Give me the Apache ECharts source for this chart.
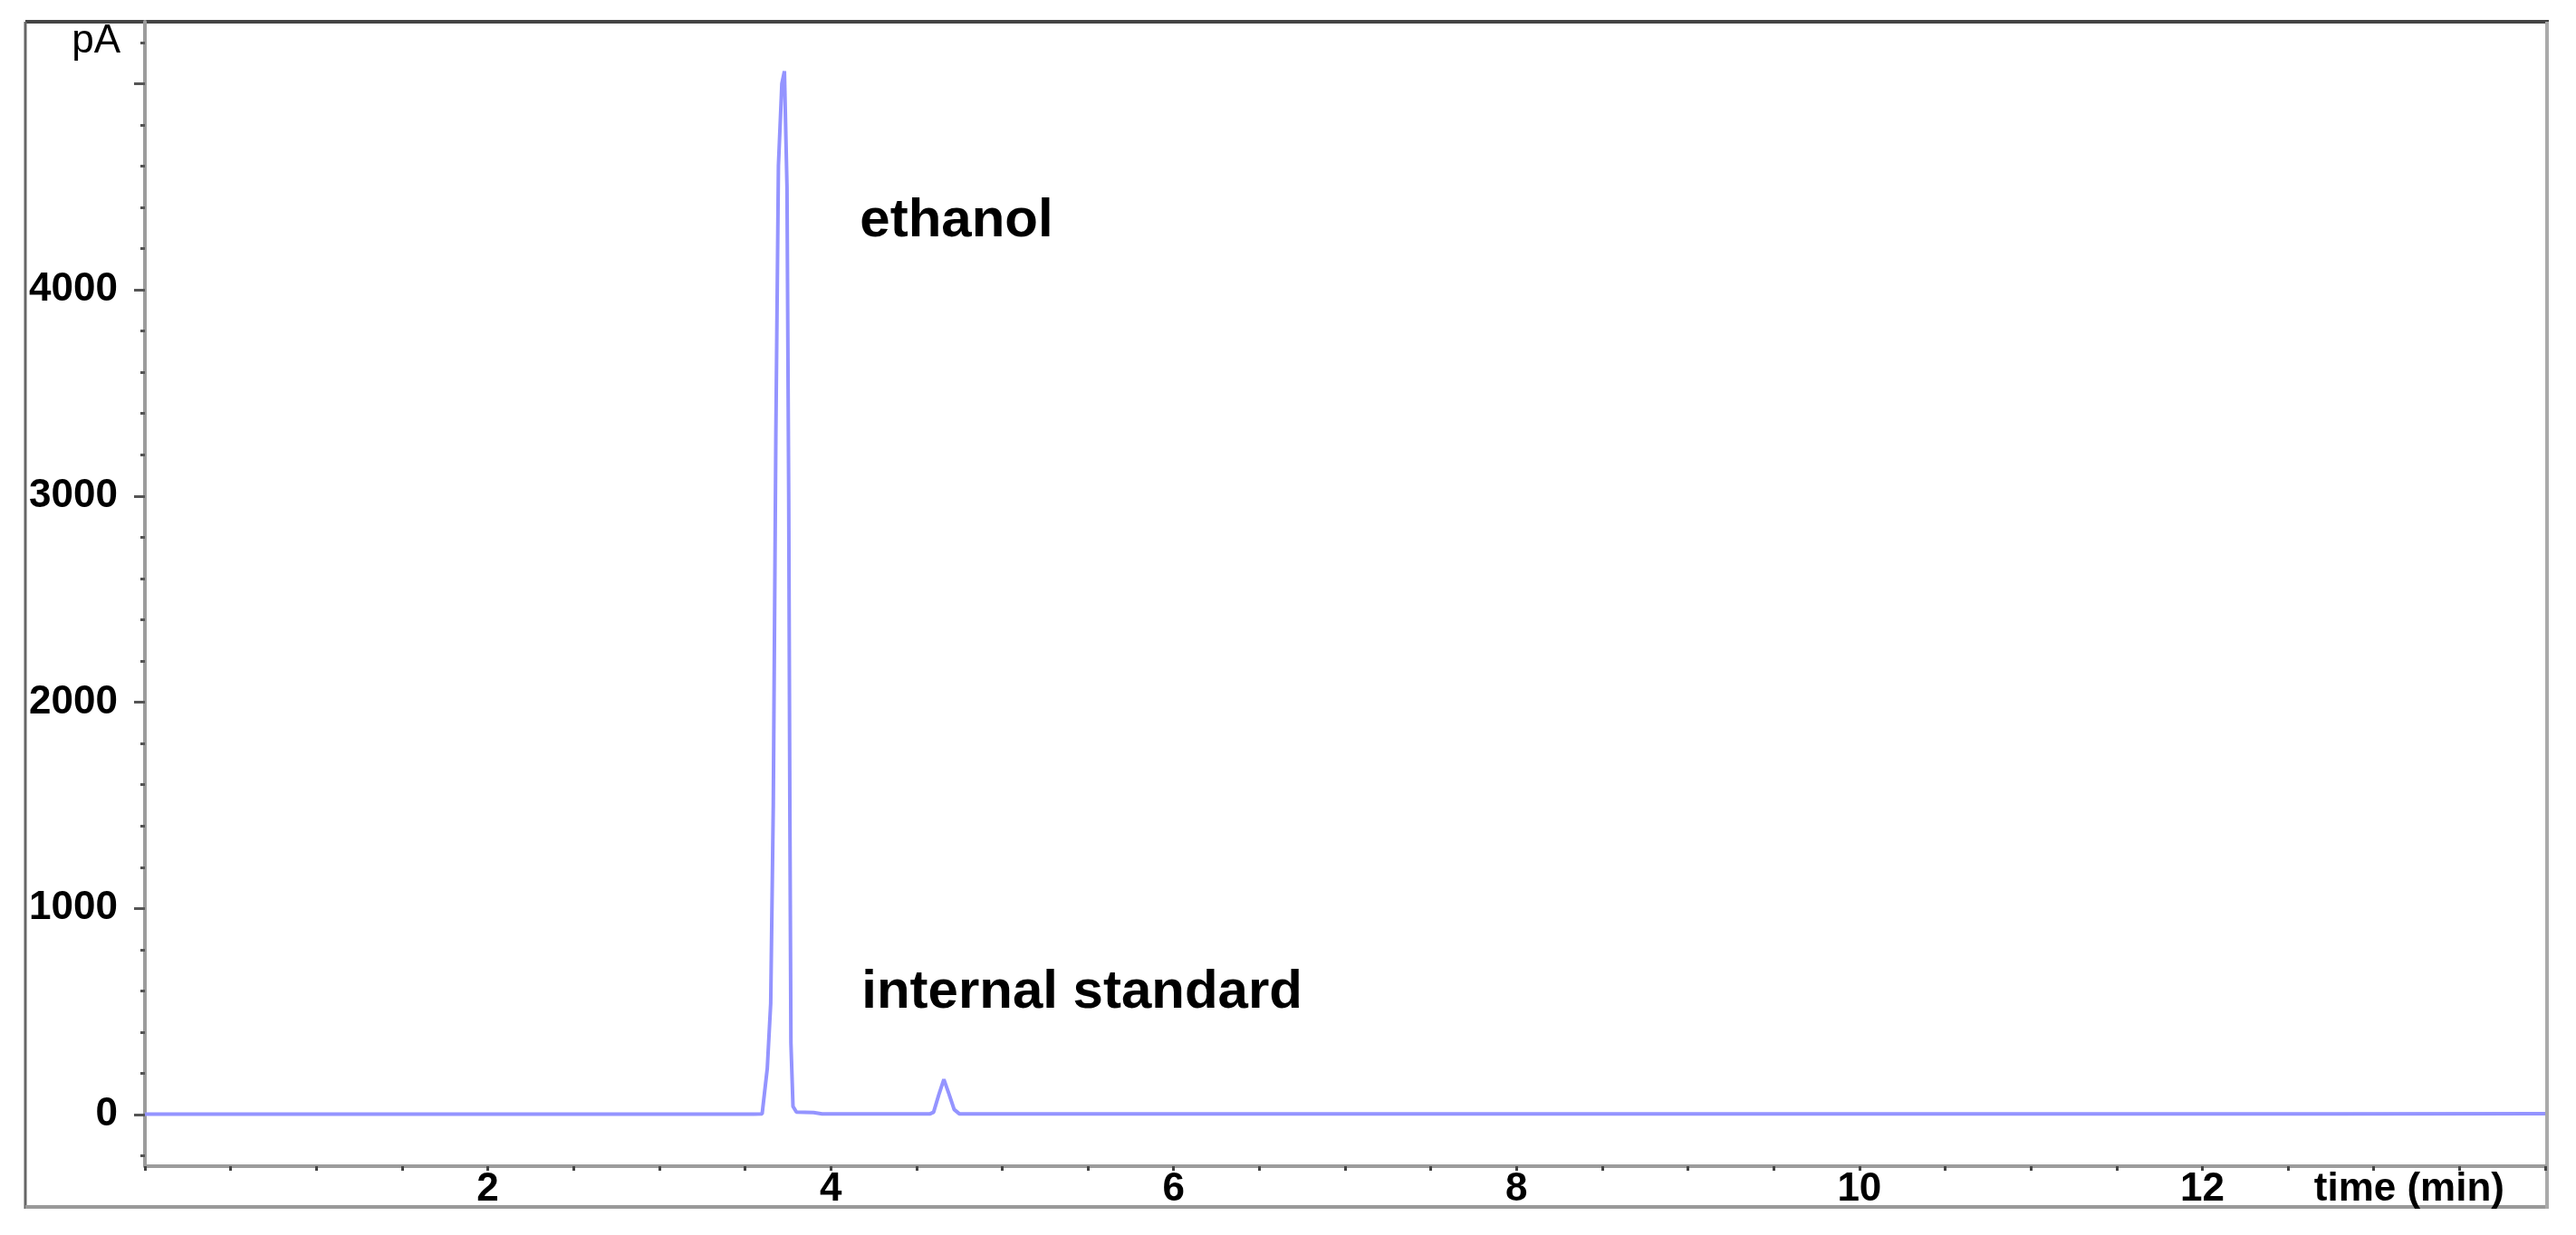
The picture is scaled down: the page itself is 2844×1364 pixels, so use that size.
<!DOCTYPE html>
<html>
<head>
<meta charset="utf-8">
<script src="https://cdn.jsdelivr.net/npm/echarts@6.0.0/dist/echarts.min.js"></script>
<style>
  html, body { margin: 0; padding: 0; background: #fff; }
  #chart { width: 2844px; height: 1364px; }
</style>
</head>
<body>
<div id="chart"></div>
<script>
// chromatogram (min / pA)
var times = [0, 3.55, 3.60, 3.63, 3.65, 3.665, 3.68, 3.695, 3.715, 3.73, 3.745, 3.755, 3.762, 3.768, 3.78, 3.80, 3.90, 3.95,
  4.58, 4.60, 4.63, 4.66, 4.69, 4.72, 4.75, 12.77, 14]
var signal = [3, 3, 4, 224, 540, 1500, 3300, 4600, 5000, 5060, 4500, 3000, 1420, 346, 40, 12, 10, 4,
  4, 12, 95, 171, 100, 25, 4, 4, 5]

var xTickLabels = [2, 4, 6, 8, 10, 12]
var yTickLabels = [0, 1000, 2000, 3000, 4000]
var yMajorTicks = [0, 1000, 2000, 3000, 4000, 5000]
var yMinorTicks = [-200, 200, 400, 600, 800, 1200, 1400, 1600, 1800, 2200, 2400, 2600, 2800,
  3200, 3400, 3600, 3800, 4200, 4400, 4600, 4800, 5200]

var peakNames = ['ethanol', 'internal standard']

var font = '"Liberation Sans", Arial, sans-serif'
var chart = echarts.init(document.getElementById('chart'))

var option = {
  backgroundColor: '#fff',
  animation: false,
  grid: { left: 160, right: 34, top: 24, bottom: 76, outerBoundsMode: 'none' },
  xAxis: {
    type: 'value',
    min: 0,
    max: 14,
    interval: 2,
    name: 'time (min)',
    nameLocation: 'end',
    nameGap: -45,
    nameTextStyle: {
      align: 'right', verticalAlign: 'top', padding: [4, 0, 0, 0],
      fontSize: 44, fontWeight: 'bold', color: '#000', fontFamily: font
    },
    axisLine: { onZero: false, lineStyle: { color: '#9c9c9c', width: 4 } },
    axisTick: { length: 5, lineStyle: { color: '#444', width: 3 } },
    minorTick: { show: true, splitNumber: 4, length: 5, lineStyle: { color: '#444', width: 3 } },
    splitLine: { show: false },
    axisLabel: {
      margin: 4,
      fontSize: 44, fontWeight: 'bold', color: '#000', fontFamily: font,
      formatter: function (v) { return xTickLabels.indexOf(v) >= 0 ? String(v) : '' }
    }
  },
  yAxis: [
    {
      type: 'value',
      min: -250,
      max: 5300,
      name: 'pA',
      nameLocation: 'end',
      nameGap: -44,
      nameTextStyle: {
        align: 'right', verticalAlign: 'bottom', padding: [0, 27, 0, 0],
        fontSize: 44, color: '#000', fontFamily: font
      },
      axisLine: { show: true, lineStyle: { color: '#9c9c9c', width: 4 } },
      axisTick: { show: true, length: 12, customValues: yMajorTicks, lineStyle: { color: '#555', width: 3 } },
      splitLine: { show: false },
      axisLabel: {
        margin: 30, customValues: yTickLabels,
        fontSize: 44, fontWeight: 'bold', color: '#000', fontFamily: font,
        formatter: function (v) { return String(v) }
      }
    },
    {
      // minor ticks only
      type: 'value',
      min: -250,
      max: 5300,
      position: 'left',
      axisLine: { show: false },
      axisTick: { show: true, length: 5, customValues: yMinorTicks, lineStyle: { color: '#555', width: 3 } },
      axisLabel: { show: false },
      splitLine: { show: false }
    }
  ],
  series: [
    {
      type: 'line',
      data: times.map(function (t, i) { return [t, signal[i]] }),
      showSymbol: false,
      symbol: 'none',
      lineStyle: { color: '#9494ff', width: 4 }
    }
  ]
}
chart.setOption(option)

// peak annotations and the outer frame
var p1 = chart.convertToPixel({ gridIndex: 0 }, [4.17, 4330])
var p2 = chart.convertToPixel({ gridIndex: 0 }, [4.18, 590])
var labelStyle = { fontSize: 60, fontWeight: 'bold', fill: '#000', fontFamily: font, verticalAlign: 'middle', align: 'left' }
chart.setOption({
  graphic: [
    { type: 'text', x: p1[0], y: p1[1], style: Object.assign({ text: peakNames[0] }, labelStyle) },
    { type: 'text', x: p2[0], y: p2[1], style: Object.assign({ text: peakNames[1] }, labelStyle) },
    { type: 'line', shape: { x1: 28, y1: 24, x2: 2814, y2: 24 }, style: { stroke: '#444', lineWidth: 4 } },
    { type: 'line', shape: { x1: 28, y1: 24, x2: 28, y2: 1335 }, style: { stroke: '#666', lineWidth: 3 } },
    { type: 'line', shape: { x1: 28, y1: 1333, x2: 2812, y2: 1333 }, style: { stroke: '#999', lineWidth: 4 } },
    { type: 'line', shape: { x1: 2812, y1: 24, x2: 2812, y2: 1335 }, style: { stroke: '#aaa', lineWidth: 4 } }
  ]
})
</script>
</body>
</html>
